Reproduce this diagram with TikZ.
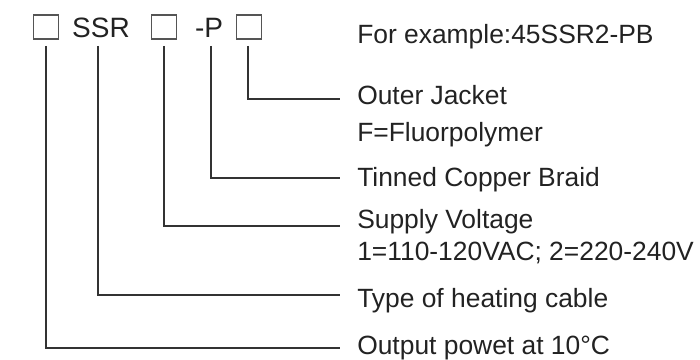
\documentclass[tikz,border=0pt]{standalone}
\usepackage{fontspec}
\setmainfont{Liberation Sans}
\usetikzlibrary{calc}
\definecolor{ink}{HTML}{222222}
\definecolor{linec}{HTML}{333333}
\definecolor{boxc}{HTML}{555555}
\begin{document}
\begin{tikzpicture}[x=0.75pt,y=-0.75pt,
  codebox/.style={draw=boxc,line width=0.9pt,minimum width=18.75pt,minimum height=18pt,inner sep=0pt},
  codetxt/.style={inner sep=0pt,anchor=base,text=ink,font=\fontsize{21}{24}\selectfont},
  lbl/.style={inner sep=0pt,anchor=base west,text=ink,font=\fontsize{19.8}{23}\selectfont},
  conn/.style={draw=linec,line width=1.5pt}]
\useasboundingbox (0,0) rectangle (700,360);
% code line
\node[codebox] (b1) at (46,27) {};
\node[codetxt] (ssr) at (101,38) {SSR};
\node[codebox] (b2) at (164,27) {};
\node[codetxt] (dp) at (209,37.5) {-P};
\node[codebox] (b3) at (249,27) {};
% start points
\coordinate (s1) at (46,46);
\coordinate (s2) at (98,46);
\coordinate (s3) at (164,46);
\coordinate (s4) at (211,46);
\coordinate (s5) at (248,46);
% labels
\node[lbl] (ex) at (357,44) {For example:45SSR2-PB};
\node[lbl] (oj) at (357,105) {Outer Jacket};
\node[lbl] (ff) at (357,142) {F=Fluorpolymer};
\node[lbl] (tc) at (357,186) {Tinned Copper Braid};
\node[lbl] (sv) at (357,228) {Supply Voltage};
\node[lbl] (vv) at (357,260) {1=110-120VAC; 2=220-240V};
\node[lbl] (tp) at (357,307) {Type of heating cable};
\node[lbl] (op) at (357,354) {Output powet at 10°C};
% line ends
\coordinate (e5) at (340,99);
\coordinate (e4) at (340,178);
\coordinate (e3) at (340,226);
\coordinate (e2) at (340,295);
\coordinate (e1) at (340,348);
% connectors
\draw[conn] (s5) |- (e5);
\draw[conn] (s4) |- (e4);
\draw[conn] (s3) |- (e3);
\draw[conn] (s2) |- (e2);
\draw[conn] (s1) |- (e1);
\end{tikzpicture}
\end{document}
